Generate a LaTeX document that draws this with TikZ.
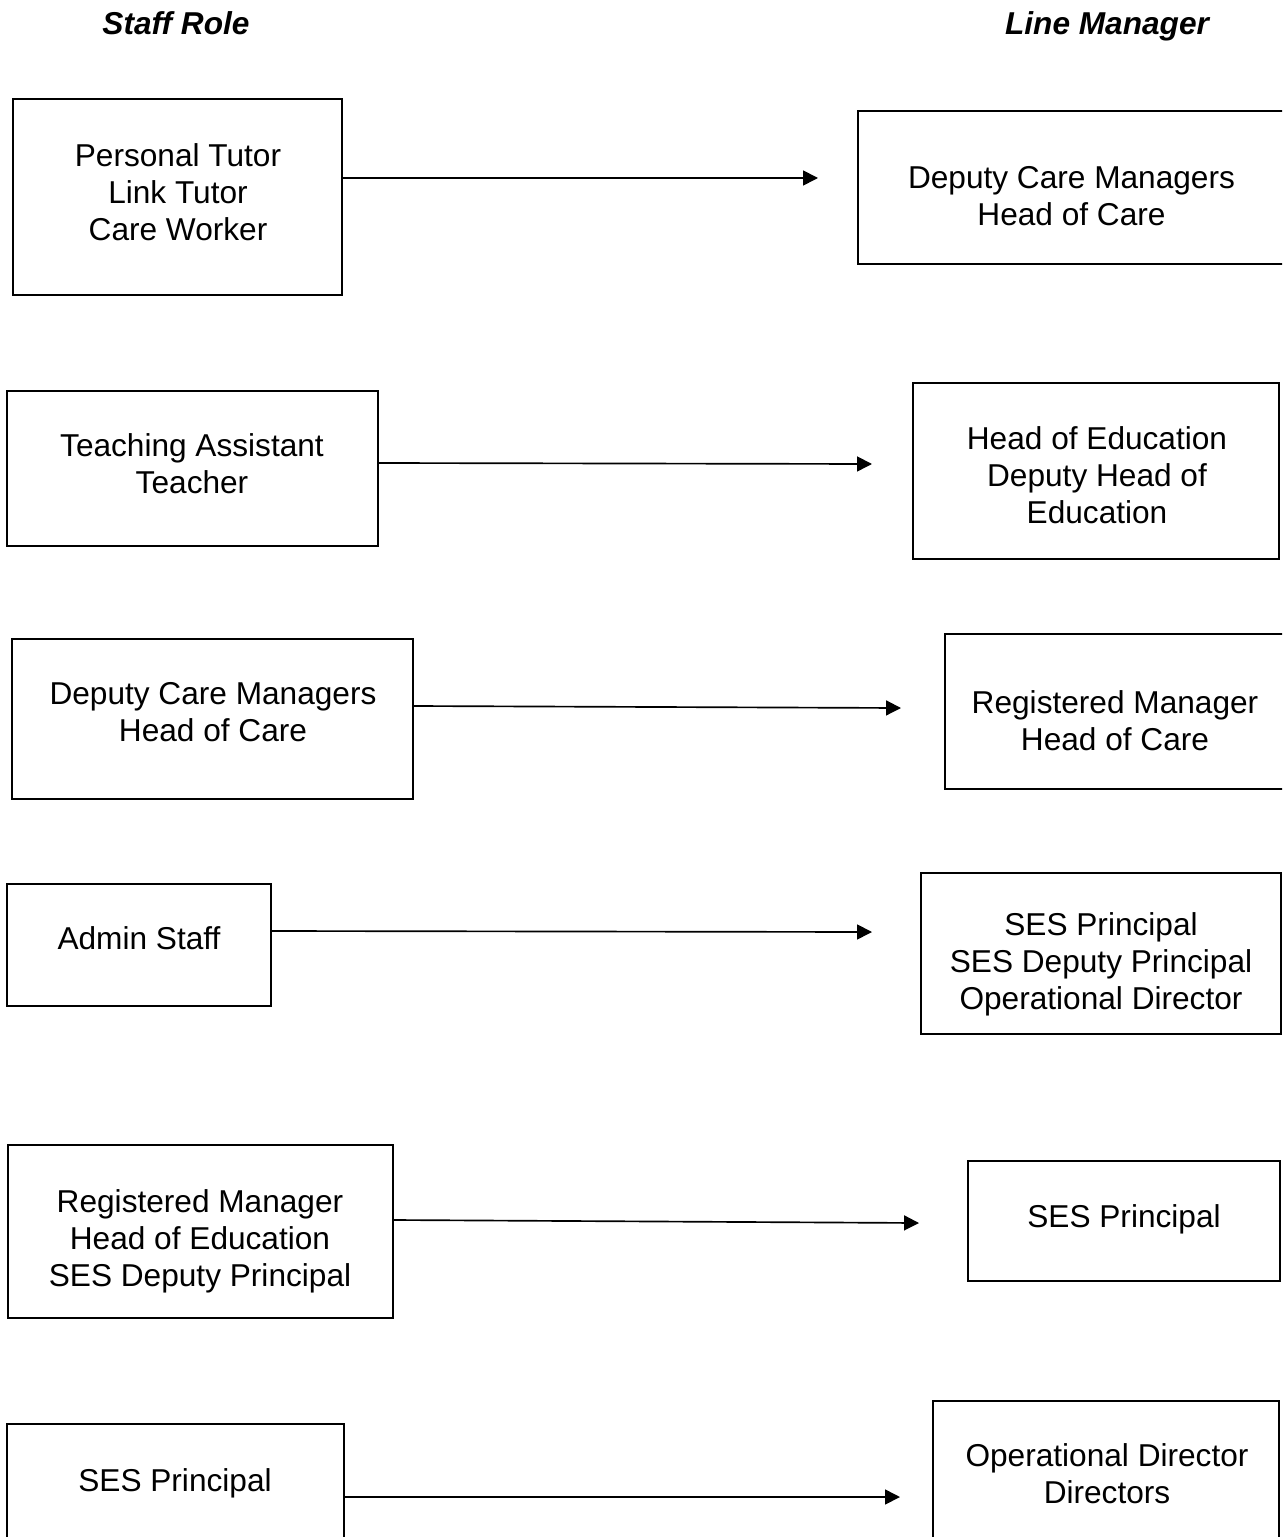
\documentclass[tikz,border=0pt]{standalone}
\usepackage{fontspec}
\setmainfont{Liberation Sans}
\usetikzlibrary{arrows.meta}

\tikzset{
  role/.style={draw, line width=1.1pt, inner sep=0pt},
  lbl/.style={align=center, inner sep=0pt, font=\fontsize{18}{21}\selectfont},
  head/.style={inner sep=0pt, font=\fontsize{18}{21}\selectfont\bfseries\itshape},
  reports/.style={-{Triangle[length=8.5pt,width=8.5pt]}, line width=0.95pt}
}

\begin{document}
\begin{tikzpicture}[x=0.02cm,y=-0.02cm]
            \path[use as bounding box, clip] (0,0) rectangle (1282,1537);
            % \draw[step=50,color=gray!40] (0,0) grid (1282,1537);
            \node[head, anchor=base] (staffrole) at (176,35) {Staff Role};
            \node[head, anchor=base] (linemanager) at (1107,35) {Line Manager};
            % boxes: centre x/y, width/height in px
            \foreach \x/\y/\w/\h/\name in {177.5/197/329/196/S1, 192.5/468.5/371/155/S2, 212.5/719/401/160/S3,
                139/945/264/122/S4, 200.5/1231.5/385/173/S5, 175.5/1512/337/176/S6,
                1079/187.5/442/153/M1, 1096/471/366/176/M2, 1122.5/711.5/355/155/M3,
                1101/953.5/360/161/M4, 1124/1221/312/120/M5, 1106/1500.5/346/199/M6}{
                \node[role, minimum width=\w*0.02cm, minimum height=\h*0.02cm, name=\name] at (\x,\y) {};
            }
            \foreach \x/\y/\txt/\name in {178/192/{Personal Tutor\\Link Tutor\\Care Worker}/S1text,
                192/464/{Teaching Assistant\\Teacher}/S2text,
                213/712.5/{Deputy Care Managers\\Head of Care}/S3text,
                139/938/{Admin Staff}/S4text,
                200/1241/{Registered Manager\\Head of Education\\SES Deputy Principal}/S5text,
                175/1483.5/{SES Principal}/S6text,
                1071.5/196.5/{Deputy Care Managers\\Head of Care}/M1text,
                1097/475/{Head of Education\\Deputy Head of\\Education}/M2text,
                1115/720.5/{Registered Manager\\Head of Care}/M3text,
                1101/964/{SES Principal\\SES Deputy Principal\\Operational Director}/M4text,
                1124/1219.5/{SES Principal}/M5text,
                1107/1474/{Operational Director\\Directors}/M6text}{
                \node[lbl, name=\name] at (\x,\y) {\txt};
            }
            % arrows stop short of the manager boxes
            \foreach \from/\sy/\ex/\ey/\to in {S1/178/818/178/M1, S2/463/872/464/M2, S3/706/901/708/M3,
                S4/931/872/932/M4, S5/1220/919/1223/M5, S6/1497/900/1497/M6}{
                \coordinate (tip\to) at (\ex,\ey);
                \draw[reports] (\from.east |- 0,\sy) -- (tip\to);
            }
        \end{tikzpicture}
\end{document}
